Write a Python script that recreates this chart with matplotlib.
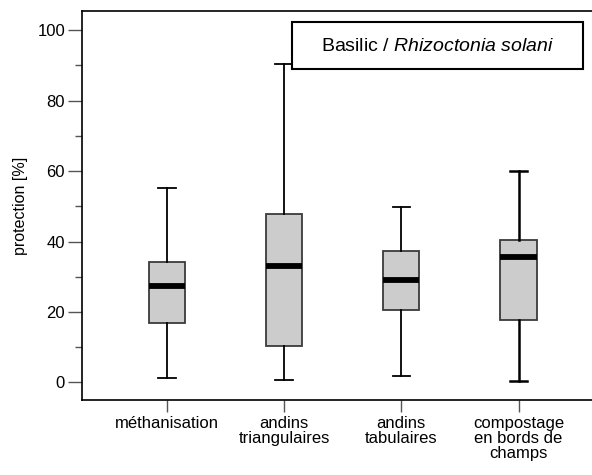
"""Boxplot: protection du basilic contre Rhizoctonia solani selon le procédé de compostage."""

import matplotlib

matplotlib.use("Agg")
import matplotlib.pyplot as plt
from matplotlib.patches import Rectangle
from matplotlib.ticker import MultipleLocator

plt.rcParams["font.family"] = ["Liberation Sans", "DejaVu Sans"]
plt.rcParams["mathtext.fontset"] = "custom"
plt.rcParams["mathtext.it"] = "Liberation Sans:italic"
plt.rcParams["mathtext.rm"] = "Liberation Sans"

categories = ["méthanisation", "andins\ntriangulaires", "andins\ntabulaires",
              "compostage\nen bords de\nchamps"]
# statistiques des boîtes (% de protection)
whisker_low = [1.2, 0.8, 1.9, 0.3]
q1 = [16.9, 10.4, 20.5, 17.7]
median = [27.3, 33.0, 29.0, 35.5]
q3 = [34.3, 47.9, 37.4, 40.4]
whisker_high = [55.3, 90.3, 49.8, 60.0]

stats = [
    {"label": c, "whislo": lo, "q1": a, "med": m, "q3": b, "whishi": hi}
    for c, lo, a, m, b, hi in zip(categories, whisker_low, q1, median, q3, whisker_high)
]

fig = plt.figure(figsize=(5.92, 4.75), dpi=100)
ax = fig.add_axes([0.138, 0.158, 0.868, 0.819])

bp = ax.bxp(stats, positions=[1, 2, 3, 4], widths=0.31, patch_artist=True,
            showfliers=False,
            boxprops=dict(facecolor="#cccccc", edgecolor="#3a3a3a", linewidth=1.3),
            medianprops=dict(color="black", linewidth=4.2, solid_capstyle="butt"),
            whiskerprops=dict(color="black", linewidth=1.3),
            capprops=dict(color="black", linewidth=1.3),
            capwidths=0.15)
# la dernière boîte a des moustaches un peu plus épaisses
for line in bp["whiskers"][6:] + bp["caps"][6:]:
    line.set_linewidth(1.8)

ax.set_xlim(0.275, 4.656)
ax.set_ylim(-5.0, 105.5)
ax.yaxis.set_major_locator(MultipleLocator(20))
ax.yaxis.set_minor_locator(MultipleLocator(10))
ax.tick_params(axis="y", which="major", length=10, width=1.0, color="#555555",
               labelsize=12, pad=2)
ax.tick_params(axis="y", which="minor", length=5, width=1.0, color="#555555")
ax.tick_params(axis="x", length=8.5, width=1.0, color="#555555", labelsize=12, pad=3)
ax.set_xticklabels(categories, linespacing=1.0)
for s in ax.spines.values():
    s.set_linewidth(1.2)

ax.set_ylabel("protection [%]", fontsize=11.5, labelpad=7)

# cadre du titre
ax.add_patch(Rectangle((2.07, 88.9), 2.48, 13.4, facecolor="white",
                       edgecolor="black", linewidth=1.5, zorder=5))
ax.text(3.31, 95.5, "Basilic / $Rhizoctonia\\ solani$", fontsize=14,
        ha="center", va="center", zorder=6)

fig.savefig("out.png", dpi=100)
plt.close(fig)
